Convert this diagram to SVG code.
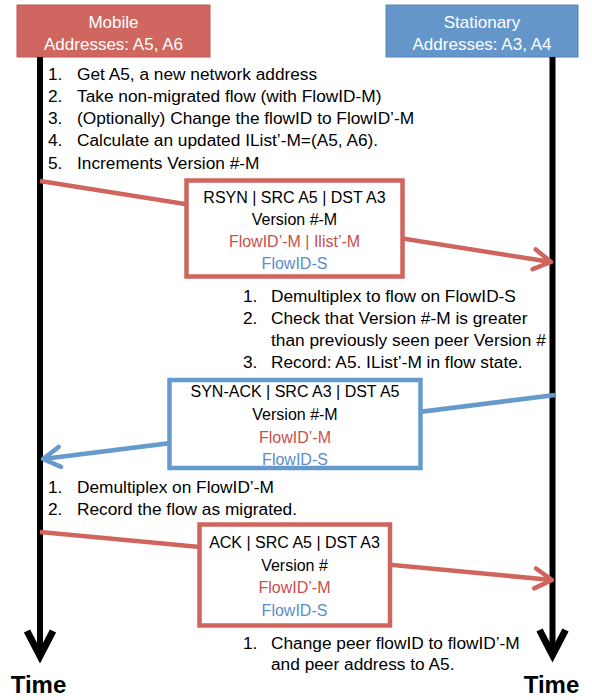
<svg xmlns="http://www.w3.org/2000/svg" width="592" height="700" viewBox="0 0 592 700">
  <style>
    text { font-family: "Liberation Sans", Arial, sans-serif; fill: #000; }
    .hdr { font-size: 17px; fill: #fff; text-anchor: middle; }
    .lst { font-size: 17.3px; }
    .box { font-size: 16px; text-anchor: middle; }
    .red { fill: #C9504C; }
    .blu { fill: #5B8DCA; }
    .time { font-size: 24px; font-weight: bold; text-anchor: middle; }
    .msgR { fill: #fff; stroke: #D0655E; stroke-width: 4.5; }
    .msgB { fill: #fff; stroke: #6699CC; stroke-width: 4.5; }
    .lnR { stroke: #D0655E; stroke-width: 4.5; fill: none; }
    .lnB { stroke: #6699CC; stroke-width: 4.5; fill: none; }
    .life { stroke: #000; stroke-width: 6; fill: none; }
  </style>
  <defs>
    <marker id="arrR" markerUnits="userSpaceOnUse" refX="0" refY="0" markerWidth="30" markerHeight="30" orient="auto" overflow="visible">
      <path d="M-17,-10 L0,0 L-17,10" fill="none" stroke="#D0655E" stroke-width="4.5" stroke-linecap="round" stroke-linejoin="round"/>
    </marker>
    <marker id="arrB" markerUnits="userSpaceOnUse" refX="0" refY="0" markerWidth="30" markerHeight="30" orient="auto" overflow="visible">
      <path d="M-17,-10 L0,0 L-17,10" fill="none" stroke="#6699CC" stroke-width="4.5" stroke-linecap="round" stroke-linejoin="round"/>
    </marker>
    <marker id="arrK" markerUnits="userSpaceOnUse" refX="0" refY="0" markerWidth="40" markerHeight="40" orient="auto" overflow="visible">
      <path d="M-25,-13 L0,0 L-25,13" fill="none" stroke="#000" stroke-width="7" stroke-linecap="butt" stroke-linejoin="miter"/>
    </marker>
  </defs>
  <rect width="592" height="700" fill="#fff"/>

  <g id="mobile">
    <rect x="17" y="5" width="193" height="52" fill="#CF6760" stroke="#BE5A53" stroke-width="1"/>
    <text class="hdr" x="113.5" y="28">Mobile</text>
    <text class="hdr" x="113.5" y="49.5">Addresses: A5, A6</text>
    <line class="life" x1="40" y1="57" x2="40" y2="656" marker-end="url(#arrK)"/>
    <text class="time" x="38.5" y="693">Time</text>
  </g>

  <g id="stationary">
    <rect x="386" y="5" width="192" height="52" fill="#6596CA" stroke="#5585BB" stroke-width="1"/>
    <text class="hdr" x="482" y="28">Stationary</text>
    <text class="hdr" x="482" y="49.5">Addresses: A3, A4</text>
    <line class="life" x1="552.5" y1="57" x2="552.5" y2="655" marker-end="url(#arrK)"/>
    <text class="time" x="551.5" y="693">Time</text>
  </g>

  <g id="connectors">
    <line class="lnR" x1="40" y1="181" x2="551" y2="262" marker-end="url(#arrR)"/>
    <line class="lnB" x1="555" y1="395" x2="43" y2="459" marker-end="url(#arrB)"/>
    <line class="lnR" x1="40" y1="532" x2="552" y2="580" marker-end="url(#arrR)"/>
  </g>

  <g id="mobile-steps-1">
    <text class="lst" x="48" y="80">1.</text><text class="lst" x="77" y="80">Get A5, a new network address</text>
    <text class="lst" x="48" y="102">2.</text><text class="lst" x="77" y="102">Take non-migrated flow (with FlowID-M)</text>
    <text class="lst" x="48" y="124">3.</text><text class="lst" x="77" y="124">(Optionally) Change the flowID to FlowID’-M</text>
    <text class="lst" x="48" y="146">4.</text><text class="lst" x="77" y="146">Calculate an updated IList’-M=(A5, A6).</text>
    <text class="lst" x="48" y="169">5.</text><text class="lst" x="77" y="169">Increments Version #-M</text>
  </g>

  <g id="rsyn">
    <rect class="msgR" x="186.5" y="180.5" width="216" height="96"/>
    <text class="box" x="294.5" y="203">RSYN | SRC A5 | DST A3</text>
    <text class="box" x="294.5" y="225">Version #-M</text>
    <text class="box red" x="294.5" y="247">FlowID’-M | Ilist’-M</text>
    <text class="box blu" x="294.5" y="269">FlowID-S</text>
  </g>

  <g id="stationary-steps-1">
    <text class="lst" x="243" y="302">1.</text><text class="lst" x="271" y="302">Demultiplex to flow on FlowID-S</text>
    <text class="lst" x="243" y="324">2.</text><text class="lst" x="271" y="324">Check that Version #-M is greater</text>
    <text class="lst" x="271" y="346">than previously seen peer Version #</text>
    <text class="lst" x="243" y="368">3.</text><text class="lst" x="271" y="368">Record: A5. IList’-M in flow state.</text>
  </g>

  <g id="synack">
    <rect class="msgB" x="169.5" y="380" width="251" height="88"/>
    <text class="box" x="295" y="397">SYN-ACK | SRC A3 | DST A5</text>
    <text class="box" x="295" y="420">Version #-M</text>
    <text class="box red" x="295" y="443">FlowID’-M</text>
    <text class="box blu" x="295" y="465">FlowID-S</text>
  </g>

  <g id="mobile-steps-2">
    <text class="lst" x="48" y="493">1.</text><text class="lst" x="77" y="493">Demultiplex on FlowID’-M</text>
    <text class="lst" x="48" y="515">2.</text><text class="lst" x="77" y="515">Record the flow as migrated.</text>
  </g>

  <g id="ack">
    <rect class="msgR" x="199.5" y="524.5" width="190.5" height="101"/>
    <text class="box" x="294.5" y="548">ACK | SRC A5 | DST A3</text>
    <text class="box" x="294.5" y="571">Version #</text>
    <text class="box red" x="294.5" y="593">FlowID’-M</text>
    <text class="box blu" x="294.5" y="616">FlowID-S</text>
  </g>

  <g id="stationary-steps-2">
    <text class="lst" x="243" y="649">1.</text><text class="lst" x="271" y="649">Change peer flowID to flowID’-M</text>
    <text class="lst" x="271" y="670">and peer address to A5.</text>
  </g>
</svg>
